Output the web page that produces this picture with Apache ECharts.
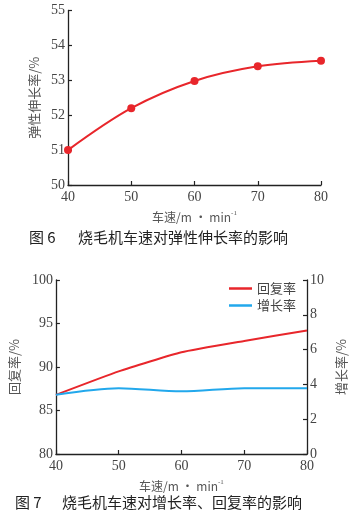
<!DOCTYPE html>
<html><head><meta charset="utf-8">
<script src="https://cdn.jsdelivr.net/npm/echarts@6/dist/echarts.min.js"></script>
<style>html,body{margin:0;padding:0;background:#fff}#c{width:359px;height:525px}</style>
</head><body><div id="c"></div>
<script>
// Fig 6
const speeds = [40, 50, 60, 70, 80];
const elasticElong = [51.0, 52.2, 52.98, 53.4, 53.56];
// Fig 7
const recoveryRate = [86.8, 89.5, 91.7, 93.0, 94.2];
const growthRate = [3.4, 3.78, 3.6, 3.78, 3.78];
const xTicks = [40, 50, 60, 70, 80];
const yTicks6 = [50, 51, 52, 53, 54, 55];
const yTicksL7 = [80, 85, 90, 95, 100];
const yTicksR7 = [0, 2, 4, 6, 8, 10];

const serif = '"Liberation Serif", "DejaVu Serif", serif';
const cjk = '"Noto Sans CJK SC", sans-serif';
const axisCol = '#222';
const labCol = '#444';
const RED = '#e8262b', BLUE = '#22a8ec';

function pairs(xs, ys) { return xs.map((x, i) => [x, ys[i]]); }

const axisBase = {
  axisLine: { show: true, onZero: false, lineStyle: { color: axisCol, width: 1.3 } },
  axisTick: { show: true, inside: true, length: 4, lineStyle: { color: axisCol, width: 1.2 } },
  splitLine: { show: false },
  axisLabel: { color: labCol, fontFamily: serif, fontSize: 14, margin: 3 }
};
const xLabel = { color: labCol, fontFamily: serif, fontSize: 14, margin: 5 };
const xName = {
  name: '车速/m · min{s|-1}',
  nameLocation: 'middle', nameGap: 25,
  nameTextStyle: { color: '#555', fontFamily: cjk, fontSize: 12,
    rich: { s: { fontSize: 7, verticalAlign: 'top', padding: [0, 0, 8, 0], color: '#555', fontFamily: serif } } }
};

const chart = echarts.init(document.getElementById('c'), null, { renderer: 'canvas' });
chart.setOption({
  animation: false,
  grid: [
    { left: 68, top: 10.5, width: 253, height: 174.5 },
    { left: 53, top: 280, width: 254, height: 174 }
  ],
  legend: {
    data: ['回复率', '增长率'], orient: 'vertical', left: 224, top: 277,
    itemWidth: 23, itemHeight: 2.5, itemGap: 4, icon: 'rect',
    textStyle: { color: '#444', fontFamily: cjk, fontSize: 13 }
  },
  xAxis: [
    Object.assign({}, axisBase, xName, { axisLabel: xLabel, gridIndex: 0, type: 'value', min: xTicks[0], max: xTicks[xTicks.length - 1], interval: 10 }),
    Object.assign({}, axisBase, xName, { axisLabel: xLabel, gridIndex: 1, type: 'value', min: xTicks[0], max: xTicks[xTicks.length - 1], interval: 10 })
  ],
  yAxis: [
    Object.assign({}, axisBase, { gridIndex: 0, type: 'value', min: yTicks6[0], max: yTicks6[yTicks6.length - 1], interval: 1,
      name: '弹性伸长率/%', nameLocation: 'middle', nameGap: 21,
      nameTextStyle: { color: '#555', fontFamily: cjk, fontSize: 13 } }),
    Object.assign({}, axisBase, { gridIndex: 1, type: 'value', position: 'left', min: yTicksL7[0], max: yTicksL7[yTicksL7.length - 1], interval: 5,
      name: '回复率/%', nameLocation: 'middle', nameGap: 19,
      nameTextStyle: { color: '#555', fontFamily: cjk, fontSize: 13 } }),
    Object.assign({}, axisBase, { gridIndex: 1, type: 'value', position: 'right', min: yTicksR7[0], max: yTicksR7[yTicksR7.length - 1], interval: 2,
      name: '增长率/%', nameLocation: 'middle', nameGap: 24, nameRotate: 90,
      nameTextStyle: { color: '#555', fontFamily: cjk, fontSize: 13 } })
  ],
  series: [
    { type: 'line', xAxisIndex: 0, yAxisIndex: 0, data: pairs(speeds, elasticElong), smooth: 0.35,
      symbol: 'circle', symbolSize: 8, itemStyle: { color: RED }, lineStyle: { color: RED, width: 2 } },
    { name: '回复率', type: 'line', xAxisIndex: 1, yAxisIndex: 1, data: pairs(speeds, recoveryRate), smooth: 0.15,
      showSymbol: false, itemStyle: { color: RED }, lineStyle: { color: RED, width: 2 } },
    { name: '增长率', type: 'line', xAxisIndex: 1, yAxisIndex: 2, data: pairs(speeds, growthRate), smooth: 0.3,
      showSymbol: false, itemStyle: { color: BLUE }, lineStyle: { color: BLUE, width: 2 } }
  ],
  graphic: [
    { type: 'text', left: 29, top: 230, style: { text: '图 6', font: '15px ' + cjk, fill: '#222' } },
    { type: 'text', left: 78, top: 230, style: { text: '烧毛机车速对弹性伸长率的影响', font: '15px ' + cjk, fill: '#222', letterSpacing: 3 } },
    { type: 'text', left: 15, top: 495, style: { text: '图 7', font: '15px ' + cjk, fill: '#222' } },
    { type: 'text', left: 62, top: 495, style: { text: '烧毛机车速对增长率、回复率的影响', font: '15px ' + cjk, fill: '#222', letterSpacing: 2 } }
  ]
});
</script></body></html>
